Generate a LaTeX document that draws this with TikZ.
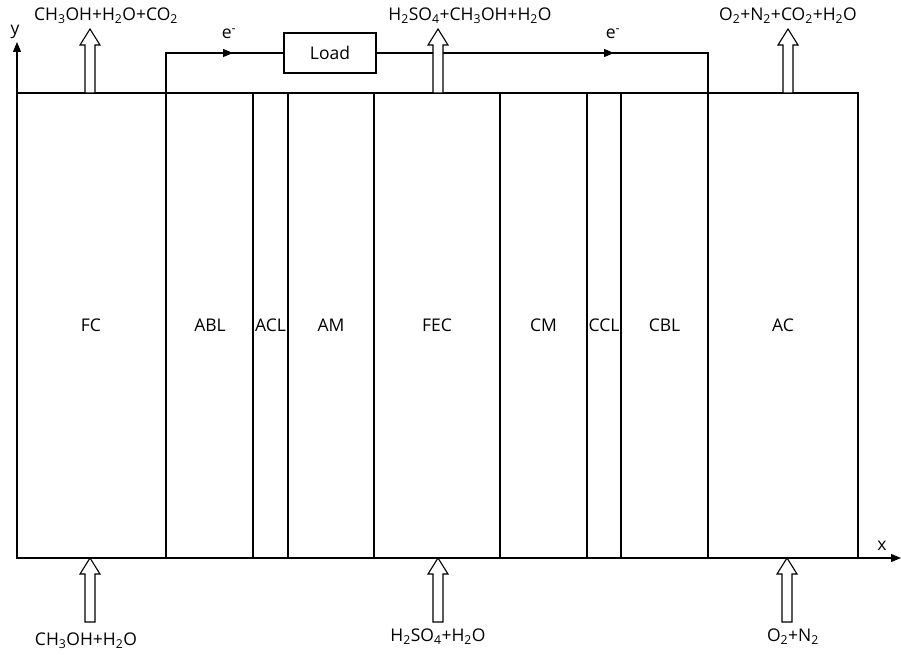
\documentclass[tikz,border=0pt]{standalone}
\usepackage{fontspec}
\setmainfont{Open Sans}
\usetikzlibrary{arrows.meta}
\begin{document}
\begin{tikzpicture}[x=1pt,y=-1pt,line width=1.1pt,
  lbl/.style={font=\fontsize{17.5}{19}\selectfont, inner sep=0pt},
  pics/flowarrow/.style={code={
    \draw[line width=1.1pt,fill=white] (0,0) -- (10,16) -- (5,16) -- (5,64) -- (-5,64) -- (-5,16) -- (-10,16) -- cycle;}},
  tipstyle/.style={-{Triangle[length=10pt,width=8pt]}}]
\useasboundingbox (0,0) rectangle (901,655);
% main cell
\draw (17,93) rectangle (858,558);
\foreach \xx in {166,253,288,374,500,587,621,708}
  \draw (\xx,93) -- (\xx,558);
% region labels
\node[lbl] (fc)  at (91,325)  {FC};
\node[lbl] (abl) at (210,325) {ABL};
\node[lbl] (acl) at (270.5,325) {ACL};
\node[lbl] (am)  at (331,325) {AM};
\node[lbl] (fec) at (437,325) {FEC};
\node[lbl] (cm)  at (543.5,325) {CM};
\node[lbl] (ccl) at (604,325) {CCL};
\node[lbl] (cbl) at (664.5,325) {CBL};
\node[lbl] (ac)  at (783,325) {AC};
% axes
\coordinate (origin) at (17,558);
\coordinate (ytip) at (17,42);
\coordinate (xtip) at (901,558);
\draw[tipstyle] (origin) -- (ytip);
\draw[tipstyle] (origin) -- (xtip);
\node[lbl] (ylab) at (15,32) {y};
\node[lbl] (xlab) at (882,546) {x};
% external circuit
\node[draw,line width=1.1pt,minimum width=92pt,minimum height=40pt,lbl] (load) at (330,53) {Load};
\coordinate (anode) at (166,93);
\coordinate (cathode) at (708,93);
\draw (anode) -- (166,53) -- (load.west);
\draw (load.east) -- (708,53) -- (cathode);
\draw[tipstyle] (220,53) -- (233,53);
\draw[tipstyle] (601,53) -- (614,53);
\node[lbl] (e1) at (229,34) {e\textsuperscript{-}};
\node[lbl] (e2) at (613,34) {e\textsuperscript{-}};
% flow arrows top
\pic at (90,29) {flowarrow};
\pic at (438,29) {flowarrow};
\pic at (788,29) {flowarrow};
% flow arrows bottom
\pic at (90,558) {flowarrow};
\pic at (438,558) {flowarrow};
\pic at (787,558) {flowarrow};
% stream labels
\node[lbl] (t1) at (106,16) {CH\textsubscript{3}OH+H\textsubscript{2}O+CO\textsubscript{2}};
\node[lbl] (t2) at (470,16) {H\textsubscript{2}SO\textsubscript{4}+CH\textsubscript{3}OH+H\textsubscript{2}O};
\node[lbl] (t3) at (788,16) {O\textsubscript{2}+N\textsubscript{2}+CO\textsubscript{2}+H\textsubscript{2}O};
\node[lbl] (b1) at (86,641) {CH\textsubscript{3}OH+H\textsubscript{2}O};
\node[lbl] (b2) at (438,637) {H\textsubscript{2}SO\textsubscript{4}+H\textsubscript{2}O};
\node[lbl] (b3) at (793,637) {O\textsubscript{2}+N\textsubscript{2}};
\end{tikzpicture}
\end{document}
